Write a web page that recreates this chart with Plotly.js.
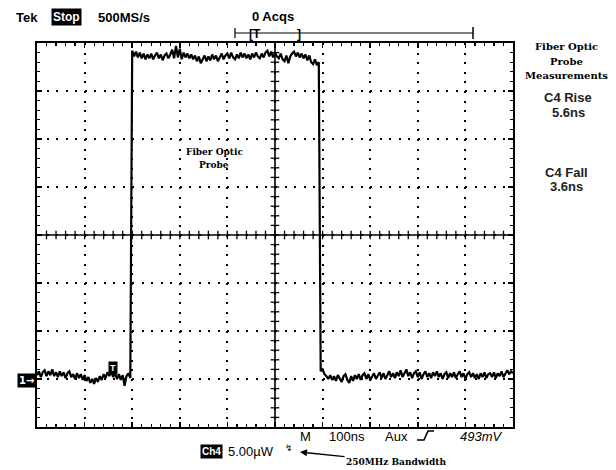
<!DOCTYPE html>
<html>
<head>
<meta charset="utf-8">
<script src="https://cdn.plot.ly/plotly-3.0.1.min.js"></script>
<style>html,body{margin:0;padding:0;background:#fff;}#chart{width:616px;height:470px;}</style>
</head>
<body>
<div id="chart"></div>
<script>
// ---- Data (screen frame: 100 ns/div horizontally, 5 uW/div vertically, centre = 0) ----
const sampleNs = 4; // one plotted sample every 4 ns
const lowBefore = [-14.6,-14.2,-14.8,-14.3,-14.1,-14.7,-14.2,-14.6,-14.0,-14.7,
  -14.3,-14.8,-14.2,-14.7,-14.3,-14.9,-14.4,-14.2,-14.8,-14.5,
  -15.0,-14.4,-14.9,-14.5,-15.1,-14.6,-15.2,-14.8,-15.4,-15.0,
  -15.5,-14.9,-15.3,-14.7,-15.1,-14.5,-14.9,-14.3,-14.7,-14.2,
  -14.8,-14.4,-15.0,-14.5,-15.1,-14.6,-15.7,-14.7,-14.4,-14.9];
const highLevel = [19.2,18.6,19.1,18.5,19.0,18.4,18.9,18.3,18.8,18.4,
  18.9,18.3,18.7,19.0,18.4,18.8,18.2,18.7,18.9,18.4,
  18.8,19.3,18.4,19.7,18.5,19.4,18.3,19.0,18.5,18.9,
  18.4,18.8,18.3,18.7,18.1,18.6,17.9,18.4,18.7,18.1,
  18.6,18.2,18.8,18.3,18.7,18.1,18.6,18.9,18.3,18.7,
  18.9,18.4,19.0,18.5,18.3,18.8,18.4,19.0,18.5,18.9,
  18.4,18.8,18.3,18.9,18.5,19.0,18.6,18.4,18.9,18.5,
  19.0,19.2,18.6,19.1,18.5,19.0,18.6,18.4,18.9,18.3,
  18.1,18.7,17.9,18.6,18.9,19.1,18.6,19.0,18.5,18.9,
  18.4,18.8,18.2,18.7,18.0,17.8,18.3,17.7,18.0];
const lowAfter = [-14.2,-14.0,-14.5,-14.7,-15.0,-14.6,-15.1,-14.7,-15.2,-14.6,
  -15.0,-15.3,-14.7,-14.5,-15.1,-15.4,-14.7,-15.2,-14.6,-15.0,
  -14.5,-15.1,-14.6,-14.4,-15.0,-14.5,-15.1,-14.7,-14.4,-15.0,
  -14.6,-14.3,-14.9,-14.4,-15.0,-14.5,-14.2,-14.8,-14.4,-14.9,
  -14.3,-14.7,-14.1,-14.8,-14.4,-14.0,-14.7,-14.3,-14.9,-14.4,
  -14.2,-14.8,-14.3,-15.0,-14.5,-14.2,-14.8,-14.4,-14.9,-14.3,
  -14.7,-14.2,-14.8,-14.4,-15.0,-14.5,-14.3,-14.9,-14.4,-14.8,
  -14.3,-14.9,-14.5,-14.2,-14.8,-14.4,-15.0,-14.5,-14.3,-14.8,
  -14.4,-14.9,-14.5,-15.0,-14.4,-14.8,-14.3,-14.9,-14.5,-14.4,
  -14.8,-14.3,-14.9,-14.4,-14.7,-14.2,-14.8,-14.4,-14.1,-14.5,
  -14.2,-14.4];
const xRangeNs = [0, 1000];
const yRangeUW = [-20, 20];

const power = lowBefore.concat(highLevel, lowAfter);
const timeNs = power.map((_, i) => i * sampleNs);

// ---- helpers for layout positions (pixel -> paper) ----
const L = 37, T = 43, W = 476, H = 384;
const px = x => (x - L) / W;
const py = y => (T + H - y) / H;

const shapes = [];
// centre crosshair
shapes.push({type:'line', xref:'x', yref:'y', x0:500, x1:500, y0:-20, y1:20, line:{color:'#000', width:1.6}});
shapes.push({type:'line', xref:'x', yref:'y', x0:0, x1:1000, y0:0, y1:0, line:{color:'#000', width:1.6}});
for (let t = 20; t < 1000; t += 20) {
  shapes.push({type:'line', xref:'x', yref:'y', x0:t, x1:t, y0:-0.45, y1:0.45, line:{color:'#000', width:1.3}});
}
for (let v = -19; v < 20; v += 1) {
  shapes.push({type:'line', xref:'x', yref:'y', x0:491, x1:509, y0:v, y1:v, line:{color:'#000', width:1.3}});
}
// trigger position bar
shapes.push({type:'line', xref:'paper', yref:'paper', x0:px(235), x1:px(473), y0:py(33), y1:py(33), line:{color:'#000', width:1.2}});
shapes.push({type:'line', xref:'paper', yref:'paper', x0:px(235), x1:px(235), y0:py(28), y1:py(38), line:{color:'#000', width:1.2}});
shapes.push({type:'line', xref:'paper', yref:'paper', x0:px(473), x1:px(473), y0:py(27), y1:py(39), line:{color:'#000', width:1.5}});
// rising edge trigger icon
shapes.push({type:'path', xref:'paper', yref:'paper',
  path:`M ${px(417)},${py(440)} L ${px(424)},${py(440)} L ${px(428)},${py(431)} L ${px(434)},${py(431)}`,
  line:{color:'#000', width:1.6}});

const sans = 'Liberation Sans, Arial, sans-serif';
const serif = 'DejaVu Serif, serif';
function txt(t, x, y, opts) {
  opts = opts || {};
  return Object.assign({
    text: t, xref:'paper', yref:'paper', x: px(x), y: py(y),
    xanchor:'center', yanchor:'middle', showarrow:false,
    font:{family: opts.family || sans, size: opts.size || 13, color: opts.color || '#000',
          weight: opts.weight || 'normal', style: opts.style || 'normal'}
  }, opts.extra || {});
}
const annotations = [
  txt('Tek', 27, 17, {weight:'bold', size:13}),
  txt('Stop', 66, 17, {weight:'bold', size:12, color:'#fff', extra:{bgcolor:'#000', borderpad:1}}),
  txt('500MS/s', 124, 17, {weight:'bold', size:13}),
  txt('0 Acqs', 273, 16, {weight:'bold', size:13}),
  txt('[T', 255, 34, {weight:'bold', size:12}),
  txt(']', 299, 34, {weight:'bold', size:12}),
  txt('Fiber Optic', 566, 47, {family:serif, weight:'bold', size:10}),
  txt('Probe', 566, 61, {family:serif, weight:'bold', size:10}),
  txt('Measurements', 566, 75, {family:serif, weight:'bold', size:10}),
  txt('C4 Rise', 568, 97, {size:13, weight:'bold', color:'#222'}),
  txt('5.6ns', 568, 112, {size:13, weight:'bold', color:'#222'}),
  txt('C4 Fall', 566, 172, {size:13, weight:'bold', color:'#222'}),
  txt('3.6ns', 566, 186, {size:13, weight:'bold', color:'#222'}),
  txt('Fiber Optic', 214, 152, {family:serif, weight:'bold', size:9}),
  txt('Probe', 214, 165, {family:serif, weight:'bold', size:9}),
  txt('1→', 26, 380, {family:'DejaVu Sans, sans-serif', weight:'bold', size:10, color:'#fff', extra:{bgcolor:'#000', borderpad:1}}),
  txt('T', 113, 368, {weight:'bold', size:9, color:'#fff', extra:{bgcolor:'#000', borderpad:1}}),
  txt('M', 305, 436, {size:13}),
  txt('100ns', 347, 436, {size:13}),
  txt('Aux', 396, 436, {size:13}),
  txt('493mV', 481, 436, {size:13, style:'italic'}),
  txt('Ch4', 211, 451, {weight:'bold', size:10, color:'#fff', extra:{bgcolor:'#000', borderpad:1}}),
  txt('5.00µW', 251, 451, {size:13}),
  txt('↯', 289, 448, {family:'DejaVu Sans, sans-serif', size:9}),
  {text:'250MHz Bandwidth', xref:'paper', yref:'paper', x:px(300), y:py(452),
   ax: 96, ay: 10, showarrow:true, arrowhead:2, arrowsize:1, arrowwidth:1.4, arrowcolor:'#000',
   font:{family:serif, size:9, weight:'bold', color:'#000'}}
];

const axisCommon = {
  showline:true, linecolor:'#000', linewidth:2, mirror:'allticks',
  ticks:'inside', ticklen:5, tickwidth:1.5, tickcolor:'#000',
  showticklabels:false, zeroline:false,
  showgrid:true, gridcolor:'#000', gridwidth:2,
  fixedrange:true
};
const layout = {
  width:616, height:470, autosize:false,
  margin:{l:L, r:616-L-W, t:T, b:470-T-H},
  paper_bgcolor:'#fff', plot_bgcolor:'#fff',
  showlegend:false, hovermode:false,
  xaxis: Object.assign({}, axisCommon, {range:xRangeNs, dtick:100, tick0:0, griddash:'2px,7.6px',
    minor:{ticks:'inside', ticklen:3, tickwidth:1.2, tickcolor:'#000', dtick:20, showgrid:false}}),
  yaxis: Object.assign({}, axisCommon, {range:yRangeUW, dtick:5, tick0:0, griddash:'2px,7.52px',
    minor:{ticks:'inside', ticklen:3, tickwidth:1.2, tickcolor:'#000', dtick:1, showgrid:false}}),
  shapes: shapes,
  annotations: annotations
};
const traces = [{
  x: timeNs, y: power, type:'scatter', mode:'lines',
  line:{color:'#000', width:2.2}, hoverinfo:'skip'
}];
Plotly.newPlot('chart', traces, layout, {staticPlot:true, displayModeBar:false});
</script>
</body>
</html>
